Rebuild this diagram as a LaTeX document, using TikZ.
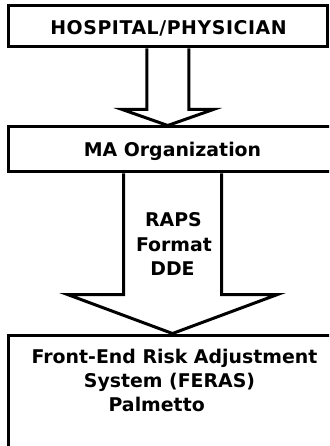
\documentclass[tikz,border=0pt]{standalone}
\usepackage{fontspec}
\setmainfont{DejaVu Sans}
\usetikzlibrary{calc,backgrounds}
\begin{document}
\begin{tikzpicture}[x=1pt,y=-1pt,
  box/.style={draw, line width=3pt, fill=white, inner sep=0pt, rectangle},
  lbl/.style={font=\fontsize{18.9}{24}\selectfont\bfseries, inner sep=0pt, anchor=base},
  fatarrow/.style={draw, line width=3pt, fill=white, line join=miter}]
\useasboundingbox (0,0) rectangle (329,446);
\clip (0,0) rectangle (329,446);
% boxes
\node[box, minimum width=319.5pt, minimum height=41pt] (hosp) at (167.75,26.5) {};
\node[box, minimum width=329pt, minimum height=45pt] (ma) at (172.5,149.5) {};
\node[box, minimum width=333pt, minimum height=125pt] (fe) at (174.5,397.5) {};
% labels
\node[lbl] (thosp) at (168.5,34.5) {\addfontfeature{LetterSpace=3}HOSPITAL/PHYSICIAN};
\node[lbl] (tma) at (172.5,156.5) {MA Organization};
\node[lbl] (traps) at (173.5,226.7) {RAPS};
\node[lbl] (tformat) at (174,251.5) {Format};
\node[lbl] (tdde) at (172.5,275) {DDE};
\node[lbl] (tfe1) at (174.5,363) {Front-End Risk Adjustment};
\node[lbl] (tfe2) at (169.5,387) {System (FERAS)};
\node[lbl] (tfe3) at (156.7,411.5) {Palmetto};
% arrows
\coordinate (a1tip) at (hosp.south |- ma.north);
\coordinate (a2tip) at (ma.south |- fe.north);
\begin{scope}[on background layer]
\draw[fatarrow] ($(hosp.south)+(-21,0)$) -- ++(0,61) -- ++(-24.5,0) -- (a1tip)
  -- ($(hosp.south)+(45.5,61)$) -- ++(-24.5,0) -- ($(hosp.south)+(21,0)$);
\draw[fatarrow] ($(ma.south)+(-49,0)$) -- ++(0,121) -- ++(-56,0) -- (a2tip)
  -- ($(ma.south)+(105,121)$) -- ++(-56,0) -- ($(ma.south)+(49,0)$);
\end{scope}
\end{tikzpicture}
\end{document}
